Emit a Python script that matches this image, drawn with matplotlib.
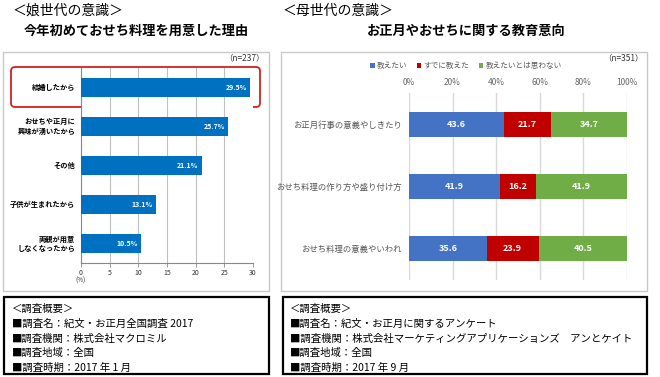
import matplotlib
matplotlib.use("Agg")
import matplotlib.pyplot as plt
from matplotlib.patches import Rectangle, FancyBboxPatch

plt.rcParams['font.family'] = ['Noto Sans CJK JP', 'DejaVu Sans']

# left chart: reasons for making osechi for the first time (daughters)
reasons = ['結婚したから', 'おせちや正月に\n興味が湧いたから', 'その他',
           '子供が生まれたから', '両親が用意\nしなくなったから']
reason_pct = [29.5, 25.7, 21.1, 13.1, 10.5]
left_ticks = [0, 5, 10, 15, 20, 25, 30]

# right chart: education intent (mothers)
topics = ['お正月行事の意義やしきたり', 'おせち料理の作り方や盛り付け方', 'おせち料理の意義やいわれ']
want_teach = [43.6, 41.9, 35.6]
already = [21.7, 16.2, 23.9]
not_want = [34.7, 41.9, 40.5]
series_names = ['教えたい', 'すでに教えた', '教えたいとは思わない']
right_ticks = [0, 20, 40, 60, 80, 100]

W, H = 660, 377
fig = plt.figure(figsize=(W / 100, H / 100), dpi=100)

# background axes in pixel coordinates for boxes and free text
bg = fig.add_axes([0, 0, 1, 1])
bg.set_xlim(0, W)
bg.set_ylim(H, 0)
bg.axis('off')


def px_axes(x0, y0, x1, y1):
    return fig.add_axes([x0 / W, 1 - y1 / H, (x1 - x0) / W, (y1 - y0) / H])


# headings
bg.text(13, 11, '＜娘世代の意識＞', fontsize=10, va='center', ha='left')
bg.text(283, 11, '＜母世代の意識＞', fontsize=10, va='center', ha='left')
bg.text(136, 31, '今年初めておせち料理を用意した理由', fontsize=9.5,
        fontweight='bold', va='center', ha='center')
bg.text(466, 31, 'お正月やおせちに関する教育意向', fontsize=9.5,
        fontweight='bold', va='center', ha='center')

# panel frames
bg.add_patch(Rectangle((3, 52), 266, 239, fill=False, ec='#c8c8c8', lw=1))
bg.add_patch(Rectangle((281, 52), 366, 239, fill=False, ec='#c8c8c8', lw=1))
bg.text(265, 58, '（n=237）', fontsize=6, ha='right', va='center', color='#333333')
bg.text(644, 58, '（n=351）', fontsize=6, ha='right', va='center', color='#333333')

# ---- left bar chart
axl = px_axes(81, 68, 253, 263)
ypos = list(range(len(reasons)))
axl.barh(ypos, reason_pct, height=0.47, color='#0070C0', zorder=3)
axl.set_xlim(0, 30)
axl.set_ylim(len(reasons) - 0.5, -0.5)
axl.set_xticks(left_ticks)
axl.set_xticklabels([str(t) for t in left_ticks], fontsize=5, color='#333333')
axl.tick_params(axis='x', length=3, width=0.6, color='#888888', pad=1)
axl.set_yticks([])
axl.grid(axis='x', color='#bfbfbf', lw=0.8, zorder=0)
for s in ['top', 'right']:
    axl.spines[s].set_visible(False)
axl.spines['left'].set_color('#888888')
axl.spines['bottom'].set_color('#888888')
axl.spines['left'].set_linewidth(0.8)
axl.spines['bottom'].set_linewidth(0.8)
for y, v in zip(ypos, reason_pct):
    axl.text(v - 0.6, y, f'{v}%', color='white', fontsize=5, fontweight='bold',
             ha='right', va='center', zorder=4)
    axl.text(-1.0, y, reasons[y], fontsize=5.2, fontweight='bold', ha='right',
             va='center', multialignment='right', linespacing=1.3)
bg.text(81, 281, '(%)', fontsize=4.5, ha='center', va='center', color='#333333')

# red highlight around the first row
bg.add_patch(FancyBboxPatch((11, 67), 249, 40, boxstyle='round,pad=0,rounding_size=4',
                            fill=False, ec='#d62020', lw=1.3))

# ---- right stacked bar chart
axr = px_axes(409, 93, 627, 280)
rpos = list(range(len(topics)))
colors = ['#4472C4', '#C00000', '#70AD47']
left = [0] * len(topics)
handles = []
for vals, col, name in zip([want_teach, already, not_want], colors, series_names):
    b = axr.barh(rpos, vals, left=left, height=0.4, color=col, zorder=3, label=name)
    handles.append(b)
    for y, v, l in zip(rpos, vals, left):
        axr.text(l + v / 2, y, f'{v}', color='white', fontsize=6.5,
                 fontweight='bold', ha='center', va='center', zorder=4)
    left = [a + b_ for a, b_ in zip(left, vals)]
axr.set_xlim(0, 100)
axr.set_ylim(len(topics) - 0.5, -0.5)
axr.xaxis.tick_top()
axr.set_xticks(right_ticks)
axr.set_xticklabels([f'{t}%' for t in right_ticks], fontsize=6, color='#666666')
axr.tick_params(axis='x', length=0, pad=4)
axr.set_yticks(rpos)
axr.set_yticklabels(topics, fontsize=6, color='#555555')
axr.tick_params(axis='y', length=0, pad=5)
axr.grid(axis='x', color='#d9d9d9', lw=1, zorder=0)
for s in axr.spines.values():
    s.set_visible(False)
fig.legend(handles=handles, labels=series_names, loc='center',
           bbox_to_anchor=(466 / W, 1 - 66 / H), ncol=3, frameon=False,
           fontsize=5.5, handlelength=0.6, handleheight=0.6, handletextpad=0.3,
           columnspacing=1.2, labelcolor='#595959')

# survey summary boxes
left_lines = ['＜調査概要＞', '■調査名：紀文・お正月全国調査 2017', '■調査機関：株式会社マクロミル',
              '■調査地域：全国', '■調査時期：2017 年 1 月']
right_lines = ['＜調査概要＞', '■調査名：紀文・お正月に関するアンケート',
               '■調査機関：株式会社マーケティングアプリケーションズ　アンとケイト',
               '■調査地域：全国', '■調査時期：2017 年 9 月']
bg.add_patch(Rectangle((4, 297), 265, 77, fill=False, ec='black', lw=1.6))
bg.add_patch(Rectangle((283, 297), 364, 77, fill=False, ec='black', lw=1.6))
for i, line in enumerate(left_lines):
    bg.text(12, 309 + i * 14.7, line, fontsize=7.5, ha='left', va='center')
for i, line in enumerate(right_lines):
    bg.text(290, 309 + i * 14.7, line, fontsize=7.5, ha='left', va='center')

fig.savefig('out.png', dpi=100)
